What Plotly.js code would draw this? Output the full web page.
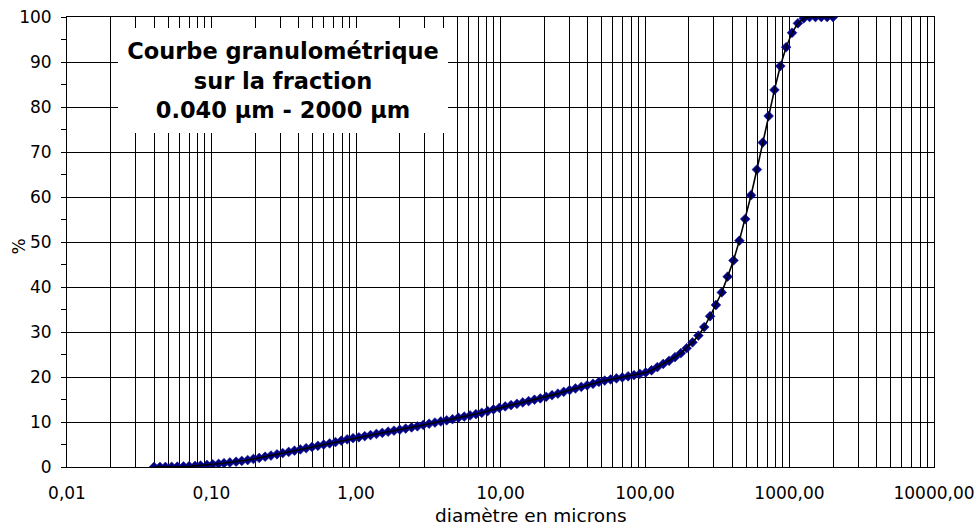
<!DOCTYPE html>
<html>
<head>
<meta charset="utf-8">
<script src="https://cdn.plot.ly/plotly-3.0.1.min.js"></script>
<style>html,body{margin:0;padding:0;background:#fff;}#chart{width:979px;height:528px;}</style>
</head>
<body>
<div id="chart"></div>
<script>
// Channel diameters (microns)
const diameters = [0.040,0.044,0.048,0.053,0.058,0.064,0.070,0.077,0.084,0.093,
0.102,0.112,0.122,0.134,0.148,0.162,0.178,0.195,0.214,0.235,0.258,0.284,0.311,0.342,0.375,0.412,0.452,0.496,0.545,0.598,0.657,0.721,0.791,0.869,0.954,
1.047,1.149,1.261,1.385,1.520,1.669,1.832,2.010,2.207,2.423,2.660,2.920,3.205,3.519,3.863,4.240,4.655,5.110,5.610,6.158,6.760,7.421,8.147,8.943,9.818,
10.78,11.83,12.99,14.26,15.65,17.18,18.86,20.71,22.73,24.95,27.39,30.07,33.01,36.24,39.78,43.67,47.94,52.62,57.77,63.41,69.61,76.42,83.89,92.09,
101.1,111.0,121.8,133.7,146.8,161.2,176.9,194.2,213.2,234.1,256.9,282.1,309.6,339.9,373.1,409.6,449.7,493.6,541.9,594.9,653.0,716.8,786.9,863.9,948.3,
1041,1143,1255,1377,1512,1660,1822,2000];
// Cumulative percent passing
const cumulative = [0,0,0.02,0.05,0.08,0.12,0.18,0.25,0.33,0.45,
0.6,0.72,0.85,1.0,1.17,1.35,1.55,1.78,2.02,2.28,2.55,2.83,3.1,3.35,3.62,3.9,4.17,4.45,4.72,4.98,5.25,5.55,5.85,6.15,6.4,
6.6,6.85,7.1,7.35,7.6,7.85,8.07,8.3,8.55,8.8,9.05,9.35,9.62,9.88,10.12,10.37,10.62,10.95,11.2,11.45,11.75,12.05,12.43,12.8,13.15,
13.45,13.75,14.05,14.35,14.65,14.95,15.25,15.6,15.95,16.3,16.7,17.1,17.45,17.8,18.15,18.5,18.9,19.2,19.45,19.7,19.9,20.15,20.4,20.7,
21.0,21.5,22.2,22.9,23.6,24.4,25.3,26.4,27.7,29.2,31.1,33.5,36.0,38.8,42.3,45.9,50.3,55.1,60.4,66.1,72.1,78.0,83.8,89.1,93.3,
96.5,98.6,99.7,100,100,100,100,100];

const decadeVals = [0.01,0.1,1,10,100,1000,10000];
const decadeLabels = ['0,01','0,10','1,00','10,00','100,00','1000,00','10000,00'];

// gridline positions: every 1..9 multiple of each decade
const xTickVals = [], xTickText = [];
decadeVals.forEach((d, i) => {
  if (i === decadeVals.length - 1) { xTickVals.push(d); xTickText.push(decadeLabels[i]); return; }
  for (let m = 1; m <= 9; m++) {
    xTickVals.push(d * m);
    xTickText.push(m === 1 ? decadeLabels[i] : '');
  }
});

const FONT = 'DejaVu Sans, Arial, sans-serif';

const traces = [
  {
    x: diameters, y: cumulative, type: 'scatter', mode: 'markers',
    marker: {symbol: 'diamond', size: 7.5, color: '#000080', line: {width: 0.6, color: '#1a1a9a'}},
    hoverinfo: 'skip', showlegend: false
  },
  {
    x: diameters, y: cumulative, type: 'scatter', mode: 'lines',
    line: {color: '#000', width: 1.6},
    hoverinfo: 'skip', showlegend: false
  }
];

const layout = {
  width: 979, height: 528,
  margin: {l: 67, r: 45, t: 17, b: 60.5},
  paper_bgcolor: '#fff', plot_bgcolor: '#fff',
  font: {family: FONT, color: '#000', size: 17},
  showlegend: false,
  xaxis: {
    type: 'log', range: [-2, 4],
    tickmode: 'array', tickvals: xTickVals, ticktext: xTickText,
    showgrid: true, gridcolor: '#000', gridwidth: 1,
    showline: true, linecolor: '#000', linewidth: 1, mirror: true,
    ticks: '', zeroline: false,
    ticklabelstandoff: 11,
    tickfont: {family: FONT, size: 17, color: '#000'}
  },
  yaxis: {
    range: [0, 100], dtick: 10, tick0: 0,
    showgrid: true, gridcolor: '#000', gridwidth: 1,
    showline: true, linecolor: '#000', linewidth: 1, mirror: true,
    ticks: 'outside', ticklen: 5, tickcolor: '#000', tickwidth: 1,
    minor: {dtick: 5, ticks: 'outside', ticklen: 5, tickcolor: '#000', showgrid: false},
    zeroline: false,
    ticklabelstandoff: 6,
    tickfont: {family: FONT, size: 17, color: '#000'}
  },
  annotations: [
    {
      xref: 'paper', yref: 'paper', x: 0.2491, y: 0.859,
      xanchor: 'center', yanchor: 'middle',
      text: '<b>Courbe granulométrique<br>sur la fraction<br>0.040 µm - 2000 µm</b>',
      showarrow: false, align: 'center',
      font: {family: FONT, size: 22.5, color: '#000'},
      bgcolor: '#fff', borderpad: 0, borderwidth: 0,
      width: 330, height: 105
    },
    {
      xref: 'paper', yref: 'paper', x: 0.535, y: -0.107,
      xanchor: 'center', yanchor: 'middle',
      text: 'diamètre en microns', showarrow: false, borderpad: 0,
      font: {family: FONT, size: 18.5, color: '#000'}
    },
    {
      xref: 'paper', yref: 'paper', x: -0.0565, y: 0.49,
      xanchor: 'center', yanchor: 'middle', textangle: -90,
      text: '%', showarrow: false,
      font: {family: FONT, size: 17, color: '#000'}
    }
  ]
};

Plotly.newPlot('chart', traces, layout, {staticPlot: true, displayModeBar: false});
</script>
</body>
</html>
